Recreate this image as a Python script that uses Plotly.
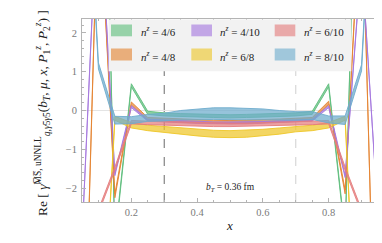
import plotly.graph_objects as go

# ---------------- data ----------------
x_vals = [0.05, 0.10, 0.15, 0.20, 0.25, 0.30, 0.35, 0.40, 0.45, 0.50,
          0.55, 0.60, 0.65, 0.70, 0.75, 0.80, 0.85, 0.90, 0.95]

series_labels = ["4/6", "4/8", "4/10", "6/8", "6/10", "8/10"]

green_c = [8.0, 15.0, -3.35, 0.65, -0.06, -0.10, -0.12, -0.13, -0.14, -0.15,
           -0.14, -0.13, -0.12, -0.10, -0.06, 0.65, -3.2, 11.8, 8.0]
green_e = [0.05, 0.05, 0.05, 0.04, 0.04, 0.04, 0.04, 0.04, 0.04, 0.04,
           0.04, 0.04, 0.04, 0.04, 0.04, 0.04, 0.05, 0.05, 0.05]

orange_c = [-8.85, 5.9, -2.2, 0.18, -0.22, -0.24, -0.26, -0.28, -0.29, -0.30,
            -0.29, -0.28, -0.26, -0.24, -0.22, 0.20, -2.1, 5.9, -9.4]
orange_e = [0.05, 0.05, 0.05, 0.04, 0.04, 0.04, 0.04, 0.04, 0.04, 0.04,
            0.04, 0.04, 0.04, 0.04, 0.04, 0.04, 0.05, 0.05, 0.05]

purple_c = [-3.3, 6.0, -1.65, 0.10, -0.25, -0.27, -0.29, -0.31, -0.32, -0.32,
            -0.32, -0.31, -0.29, -0.27, -0.25, 0.10, -1.7, 3.9, -2.65]
purple_e = [0.03, 0.03, 0.03, 0.025, 0.025, 0.025, 0.025, 0.025, 0.025, 0.025,
            0.025, 0.025, 0.025, 0.025, 0.025, 0.025, 0.03, 0.03, 0.03]

yellow_c = [-12.0, -7.9, -0.20, -0.38, -0.45, -0.48, -0.53, -0.57, -0.60, -0.61,
            -0.60, -0.57, -0.53, -0.48, -0.45, -0.38, -0.20, -9.0, -12.0]
yellow_e = [0.05, 0.05, 0.05, 0.07, 0.07, 0.07, 0.08, 0.085, 0.09, 0.09,
            0.09, 0.085, 0.08, 0.07, 0.07, 0.07, 0.05, 0.05, 0.05]

red_c = [-4.0, -2.6, -1.5, -0.30, -0.32, -0.33, -0.35, -0.36, -0.37, -0.37,
         -0.37, -0.36, -0.35, -0.33, -0.32, -0.30, -1.5, -2.6, -4.0]
red_e = [0.045, 0.045, 0.045, 0.045, 0.045, 0.045, 0.045, 0.045, 0.045, 0.045,
         0.045, 0.045, 0.045, 0.045, 0.045, 0.045, 0.045, 0.045, 0.045]

blue_c = [9.0, 1.15, -0.25, -0.25, -0.19, -0.17, -0.12, -0.10, -0.08, -0.08,
          -0.09, -0.10, -0.12, -0.14, -0.13, -0.23, -0.25, 1.1, 9.0]
blue_e = [0.10, 0.08, 0.10, 0.09, 0.09, 0.10, 0.12, 0.14, 0.15, 0.15,
          0.15, 0.14, 0.12, 0.11, 0.10, 0.09, 0.11, 0.08, 0.10]

series_c = [green_c, orange_c, purple_c, yellow_c, red_c, blue_c]
series_e = [green_e, orange_e, purple_e, yellow_e, red_e, blue_e]

base_rgb = [(95, 190, 125), (228, 132, 50), (165, 120, 222),
            (238, 198, 40), (228, 125, 125), (110, 172, 205)]

x_range = [0.05, 0.95]
y_range = [-2.36, 2.36]

# ---------------- figure ----------------
W, H = 382, 243
ML, MR, MT, MB = 74, 12, 11, 49
PW, PH = W - ML - MR, H - MT - MB


def px_to_paper_x(px):
    return (px - ML) / PW


def py_to_paper_y(py):
    return (H - MB - py) / PH


fig = go.Figure()

for c, e, rgb in zip(series_c, series_e, base_rgb):
    upper = [v + d for v, d in zip(c, e)]
    lower = [v - d for v, d in zip(c, e)]
    xs = x_vals + x_vals[::-1]
    ys = upper + lower[::-1]
    fig.add_trace(go.Scatter(
        x=xs, y=ys, mode="lines", fill="toself",
        fillcolor="rgba(%d,%d,%d,0.72)" % rgb,
        line=dict(color="rgba(%d,%d,%d,0.9)" % rgb, width=1),
        hoverinfo="skip", showlegend=False,
    ))

serif = "Liberation Serif, DejaVu Serif, serif"
frame_col = "#b4b4b4"
tick_font = dict(family=serif, size=10.5, color="#7a7a7a")

fig.update_layout(
    width=W, height=H,
    margin=dict(l=ML, r=MR, t=MT, b=MB),
    paper_bgcolor="white", plot_bgcolor="white",
    showlegend=False,
    xaxis=dict(
        range=x_range, tickvals=[0.2, 0.4, 0.6, 0.8],
        ticktext=["0.2", "0.4", "0.6", "0.8"],
        ticks="inside", ticklen=4, tickcolor=frame_col, tickwidth=1,
        minor=dict(dtick=0.05, tick0=0, ticks="inside", ticklen=2, tickcolor=frame_col),
        showline=True, linecolor=frame_col, linewidth=1, mirror="allticks",
        showgrid=False, zeroline=False, tickfont=tick_font,
        ticklabelstandoff=0,
        title=dict(text="<i>x</i>", standoff=4,
                   font=dict(family=serif, size=13, color="#222222")),
    ),
    yaxis=dict(
        range=y_range, tickvals=[-2, -1, 0, 1, 2],
        ticktext=["\u22122", "\u22121", "0", "1", "2"],
        ticks="inside", ticklen=4, tickcolor=frame_col, tickwidth=1,
        minor=dict(dtick=0.2, tick0=0, ticks="inside", ticklen=2, tickcolor=frame_col),
        showline=True, linecolor=frame_col, linewidth=1, mirror="allticks",
        showgrid=False, zeroline=True, zerolinecolor="#e4e4e4", zerolinewidth=1,
        tickfont=tick_font, ticklabelstandoff=2,
    ),
)

# vertical dashed reference lines
fig.add_shape(type="line", xref="x", yref="paper", x0=0.3, x1=0.3, y0=0, y1=1,
              line=dict(color="#6a6a6a", width=1, dash="dash"), layer="below")
fig.add_shape(type="line", xref="x", yref="paper", x0=0.7, x1=0.7, y0=0, y1=1,
              line=dict(color="#cfcfcf", width=1, dash="dash"), layer="below")

# manual legend
fig.add_shape(type="rect", xref="paper", yref="paper",
              x0=px_to_paper_x(100.7), x1=px_to_paper_x(343.3),
              y0=py_to_paper_y(63.3), y1=py_to_paper_y(11.5),
              fillcolor="#f2f2f2", line=dict(width=0), layer="above")

col_sw = [(103.0, 124.0), (183.3, 204.0), (266.7, 287.3)]
col_tx = [131.0, 210.0, 293.5]
row_sw = [(16.5, 28.3), (40.5, 52.5)]
row_tx = [23.5, 47.5]
order = [0, 2, 4, 1, 3, 5]  # row1: 4/6, 4/10, 6/10 ; row2: 4/8, 6/8, 8/10
for slot, si in enumerate(order):
    r, cidx = divmod(slot, 3)
    rgb = base_rgb[si]
    fig.add_shape(type="rect", xref="paper", yref="paper",
                  x0=px_to_paper_x(col_sw[cidx][0]), x1=px_to_paper_x(col_sw[cidx][1]),
                  y0=py_to_paper_y(row_sw[r][1]), y1=py_to_paper_y(row_sw[r][0]),
                  fillcolor="rgba(%d,%d,%d,0.62)" % rgb, line=dict(width=0), layer="above")
    fig.add_annotation(xref="paper", yref="paper",
                       x=px_to_paper_x(col_tx[cidx]), y=py_to_paper_y(row_tx[r]),
                       xanchor="left", yanchor="middle", showarrow=False,
                       text="<i>n</i><sup><i>z</i></sup> = " + series_labels[si],
                       font=dict(family=serif, size=11, color="#222222"))

# b_T annotation
fig.add_annotation(xref="x", yref="y", x=0.5, y=-1.98, showarrow=False,
                   text="<i>b<sub>T</sub></i> = 0.36 fm",
                   font=dict(family=serif, size=9.5, color="#222222"))

ytitle = ("Re [ <i>\u03b3\u0302</i><sup>M\u0305S\u0305, uNNLL</sup>"
          "<sub><i>q</i>,<i>\u03b3</i>5<i>\u03b3</i>5</sub>"
          "(<i>b</i><sub><i>T</i></sub>, <i>\u03bc</i>, <i>x</i>, "
          "<i>P</i><sub>1</sub><sup><i>z</i></sup>, <i>P</i><sub>2</sub><sup><i>z</i></sup>) ]")
fig.add_annotation(xref="paper", yref="paper", x=px_to_paper_x(34), y=py_to_paper_y(105),
                   showarrow=False, text=ytitle, textangle=-90,
                   xanchor="center", yanchor="middle",
                   font=dict(family=serif, size=13.5, color="#222222"))

fig.write_html("out.html")
